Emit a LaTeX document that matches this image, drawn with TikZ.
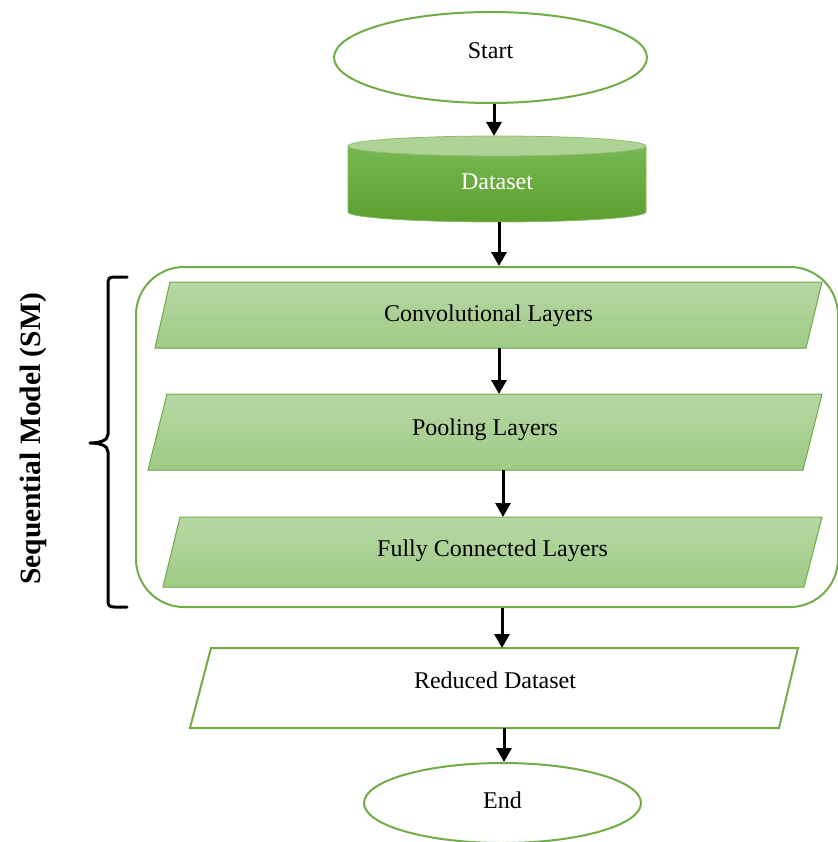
\documentclass[tikz,border=0pt]{standalone}
\usepackage{fontspec}
\setmainfont{Liberation Serif}
\usetikzlibrary{shapes.geometric,arrows.meta}
\definecolor{leaf}{HTML}{70AD47}
\definecolor{paleTop}{HTML}{B6D7A4}
\definecolor{paleBot}{HTML}{9FCB86}
\definecolor{dbTop}{HTML}{79B752}
\definecolor{dbBot}{HTML}{5C9F30}
\definecolor{dbLid}{HTML}{AED397}

\begin{document}
\begin{tikzpicture}[x=1pt,y=-1pt,
  font=\fontsize{24}{28}\selectfont,
  terminal/.style={ellipse, draw=leaf, line width=2pt, fill=white, inner sep=0pt},
  slot/.style={inner sep=0pt, outer sep=0pt},
  layerfill/.style={draw=leaf, line width=1pt, top color=paleTop, bottom color=paleBot},
  iofill/.style={draw=leaf, line width=2pt, fill=white},
  txt/.style={anchor=base, inner sep=0pt},
  flow/.style={line width=3pt, -{Triangle[width=15pt,length=14pt]}},
  bracket/.style={line width=3pt, line cap=round, line join=round},
]
\useasboundingbox (0,0) rectangle (837,842);

% start terminal
\node[terminal, minimum width=313pt, minimum height=91pt] (start) at (490.5,57.5) {};
\node[txt] (startlbl) at (490.5,58.5) {Start};

% dataset cylinder
\node[slot, minimum width=298pt, minimum height=86pt] (ds) at (497,179) {};
\path[top color=dbTop, bottom color=dbBot]
  (348,146) -- (348,212) arc[start angle=180, end angle=0, x radius=149, y radius=10]
  -- (646,146) arc[start angle=0, end angle=180, x radius=149, y radius=10] -- cycle;
\draw[leaf!85, line width=0.8pt]
  (348,146) -- (348,212) arc[start angle=180, end angle=0, x radius=149, y radius=10]
  -- (646,146);
\filldraw[fill=dbLid, draw=leaf!80, line width=0.8pt] (497,146) ellipse[x radius=149, y radius=10];
\node[txt, text=white] (dslbl) at (497,190) {Dataset};

% sequential model container
\node[draw=leaf, line width=2pt, rounded corners=48pt, minimum width=702pt,
  minimum height=340pt, inner sep=0pt] (sm) at (487,437) {};

% layers
\node[slot, minimum width=667pt, minimum height=66pt] (conv) at (488.5,315) {};
\filldraw[layerfill] (170,282) -- (822,282) -- (806,348) -- (155,348) -- cycle;
\node[txt] (convlbl) at (488.5,321) {Convolutional Layers};

\node[slot, minimum width=674pt, minimum height=76pt] (pool) at (485,432) {};
\filldraw[layerfill] (167,394) -- (822,394) -- (803,470) -- (148,470) -- cycle;
\node[txt] (poollbl) at (485,435) {Pooling Layers};

\node[slot, minimum width=659pt, minimum height=70pt] (fc) at (492.5,552) {};
\filldraw[layerfill] (180,517) -- (822,517) -- (804,587) -- (163,587) -- cycle;
\node[txt] (fclbl) at (492.5,556) {Fully Connected Layers};

% output and end
\node[slot, minimum width=608pt, minimum height=80pt] (red) at (494,688) {};
\filldraw[iofill] (211,648) -- (798,648) -- (779,728) -- (190,728) -- cycle;
\node[txt] (redlbl) at (495,688) {Reduced Dataset};

\node[terminal, minimum width=277pt, minimum height=80pt] (end) at (502.5,803) {};
\node[txt] (endlbl) at (502.5,808) {End};

% brace and side label
\draw[bracket] (127,277) -- (114,277) .. controls (109,277) and (108,279) .. (108,284)
  -- (108,434) .. controls (108,440) and (101,443) .. (90,443)
  .. controls (101,443) and (108,446) .. (108,452)
  -- (108,600) .. controls (108,605) and (109,607) .. (114,607) -- (127,607);
\node[rotate=90, font=\fontsize{29.5}{34}\selectfont\bfseries] (smlbl) at (33,439) {Sequential Model (SM)};

% flow arrows
\draw[flow] ([xshift=3.5pt]start.south) -- ([xshift=3.5pt]start.south |- ds.north);
\draw[flow] ([xshift=2pt]ds.south) -- ([xshift=2pt]ds.south |- sm.north);
\draw[flow] ([xshift=10.5pt]conv.south) -- ([xshift=10.5pt]conv.south |- pool.north);
\draw[flow] ([xshift=18pt]pool.south) -- ([xshift=18pt]pool.south |- fc.north);
\draw[flow] ([xshift=15pt]sm.south) -- ([xshift=15pt]sm.south |- red.north);
\draw[flow] ([xshift=10pt]red.south) -- ([xshift=10pt]red.south |- end.north);
\end{tikzpicture}
\end{document}
